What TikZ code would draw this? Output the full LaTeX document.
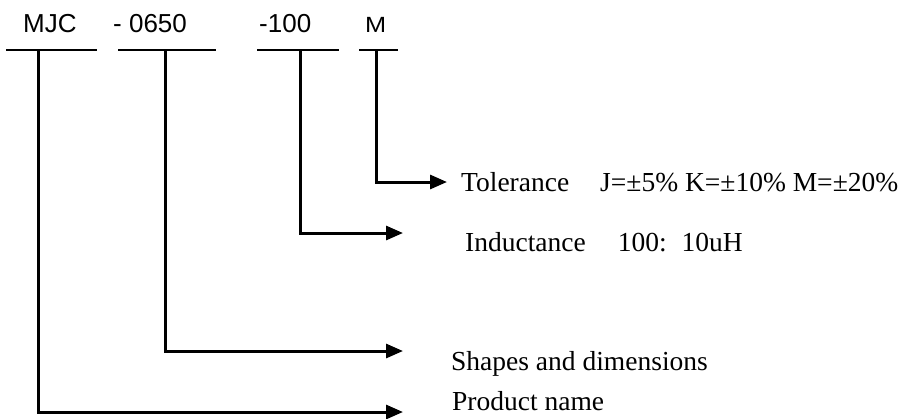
\documentclass[tikz,border=0pt]{standalone}
\usepackage{fontspec}
\setmainfont{Liberation Serif}
\newfontfamily\arialfont{Liberation Sans}
\usetikzlibrary{arrows.meta}
\tikzstyle{code} = [font=\arialfont\fontsize{26}{30}\selectfont, inner sep=0pt, anchor=base west]
\tikzstyle{desc} = [font=\fontsize{27.5}{32}\selectfont, inner sep=0pt, anchor=base west]
\tikzstyle{underline} = [line width=2pt]
\tikzstyle{arrow} = [line width=3pt, line join=miter, -{Triangle[length=17pt,width=14pt]}]

\begin{document}
\begin{tikzpicture}[x=1pt,y=-1pt]
\useasboundingbox (0,0) rectangle (910,418);

\node (mjc) [code] at (23,32) {MJC};
\node (size) [code] at (113,32) {- 0650};
\node (ind) [code] at (259,32) {-100};
\node (tol) [code, font=\arialfont\fontsize{22}{26}\selectfont] at (365,32) {\scalebox{1.15}[1]{M}};

\draw [underline] (6,50) -- (97,50);
\draw [underline] (118,50) -- (216,50);
\draw [underline] (257,50) -- (339,50);
\draw [underline] (359,50) -- (398,50);

\coordinate (sMJC) at (38,49);
\coordinate (sSize) at (165,49);
\coordinate (sInd) at (300,49);
\coordinate (sTol) at (376,49);

\coordinate (tTol) at (447,182);
\coordinate (tInd) at (403,233);
\coordinate (tSize) at (403,351);
\coordinate (tMJC) at (403,412);

\node (tolText) [desc] at (461,191) {Tolerance\hspace{31pt}J=±5\% K=±10\% M=±20\%};
\node (indText) [desc] at (465,251) {Inductance\hspace{32pt}100:\hspace{15pt}10uH};
\node (sizeText) [desc] at (451,370) {Shapes and dimensions};
\node (mjcText) [desc] at (452,410) {Product name};

\draw [arrow] (sTol) |- (tTol);
\draw [arrow] (sInd) |- (tInd);
\draw [arrow] (sSize) |- (tSize);
\draw [arrow] (sMJC) |- (tMJC);

\end{tikzpicture}
\end{document}
